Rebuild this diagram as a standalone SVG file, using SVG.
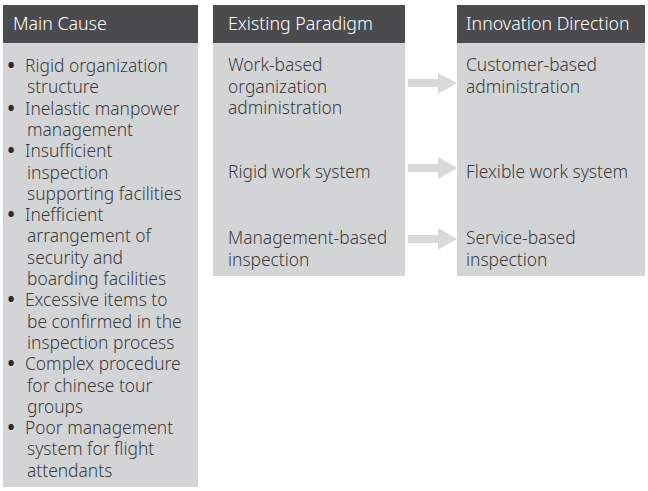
<svg xmlns="http://www.w3.org/2000/svg" width="648" height="491" viewBox="0 0 648 491">
<style>
.hdr{fill:#4b4b4d}
.body{fill:#d3d4d6}
.ht{font-family:"Noto Sans","Liberation Sans",sans-serif;font-size:17.8px;fill:#ffffff;font-weight:300}
.bt{font-family:"Noto Sans","Liberation Sans",sans-serif;font-size:17.4px;fill:#3c3c3c;font-weight:300}
.bl{font-family:"Noto Sans","Liberation Sans",sans-serif;font-size:19px;fill:#2c2c2c;font-weight:700}
.arr{fill:#d9d9da}
</style>
<rect width="648" height="491" fill="#ffffff"/>
<g id="main-cause">
<rect class="hdr" x="3" y="5" width="195" height="38"/>
<rect class="body" x="3" y="43" width="195" height="444"/>
<text class="ht" x="13" y="30">Main Cause</text>
<text class="bl">
<tspan x="7.5" y="72">•</tspan>
<tspan x="7.5" y="114.6">•</tspan>
<tspan x="7.5" y="157.2">•</tspan>
<tspan x="7.5" y="221.1">•</tspan>
<tspan x="7.5" y="306.3">•</tspan>
<tspan x="7.5" y="370.2">•</tspan>
<tspan x="7.5" y="434.1">•</tspan>
</text>
<text class="bt">
<tspan x="25" y="72">Rigid organization</tspan>
<tspan x="27" y="93.3">structure</tspan>
<tspan x="25" y="114.6">Inelastic manpower</tspan>
<tspan x="27" y="135.9">management</tspan>
<tspan x="25" y="157.2">Insufficient</tspan>
<tspan x="27" y="178.5">inspection</tspan>
<tspan x="27" y="199.8">supporting facilities</tspan>
<tspan x="25" y="221.1">Inefficient</tspan>
<tspan x="27" y="242.4">arrangement of</tspan>
<tspan x="27" y="263.7">security and</tspan>
<tspan x="27" y="285">boarding facilities</tspan>
<tspan x="25" y="306.3">Excessive items to</tspan>
<tspan x="27" y="327.6">be confirmed in the</tspan>
<tspan x="27" y="348.9">inspection process</tspan>
<tspan x="25" y="370.2">Complex procedure</tspan>
<tspan x="27" y="391.5">for chinese tour</tspan>
<tspan x="27" y="412.8">groups</tspan>
<tspan x="25" y="434.1">Poor management</tspan>
<tspan x="27" y="455.4">system for flight</tspan>
<tspan x="27" y="476.7">attendants</tspan>
</text>
</g>
<g id="existing-paradigm">
<rect class="hdr" x="213" y="5" width="192" height="38"/>
<rect class="body" x="213" y="43" width="192" height="233"/>
<text class="ht" x="228" y="30">Existing Paradigm</text>
<text class="bt">
<tspan x="228" y="71">Work-based</tspan>
<tspan x="228" y="92.5">organization</tspan>
<tspan x="228" y="114">administration</tspan>
<tspan x="228" y="178">Rigid work system</tspan>
<tspan x="228" y="244">Management-based</tspan>
<tspan x="228" y="265.5">inspection</tspan>
</text>
</g>
<g id="innovation-direction">
<rect class="hdr" x="457" y="5" width="188" height="38"/>
<rect class="body" x="457" y="43" width="188" height="233"/>
<text class="ht" x="466" y="30">Innovation Direction</text>
<text class="bt">
<tspan x="466" y="71">Customer-based</tspan>
<tspan x="466" y="92.5">administration</tspan>
<tspan x="466" y="178">Flexible work system</tspan>
<tspan x="466" y="244">Service-based</tspan>
<tspan x="466" y="265.5">inspection</tspan>
</text>
</g>
<g id="connectors">
<polygon class="arr" points="408,79 438,79 438,73 457,83 438,94 438,87 408,87"/>
<polygon class="arr" points="408,164 438,164 438,157 457,168 438,179 438,172 408,172"/>
<polygon class="arr" points="408,235 438,235 438,228 457,239 438,250 438,243 408,243"/>
</g>
</svg>
